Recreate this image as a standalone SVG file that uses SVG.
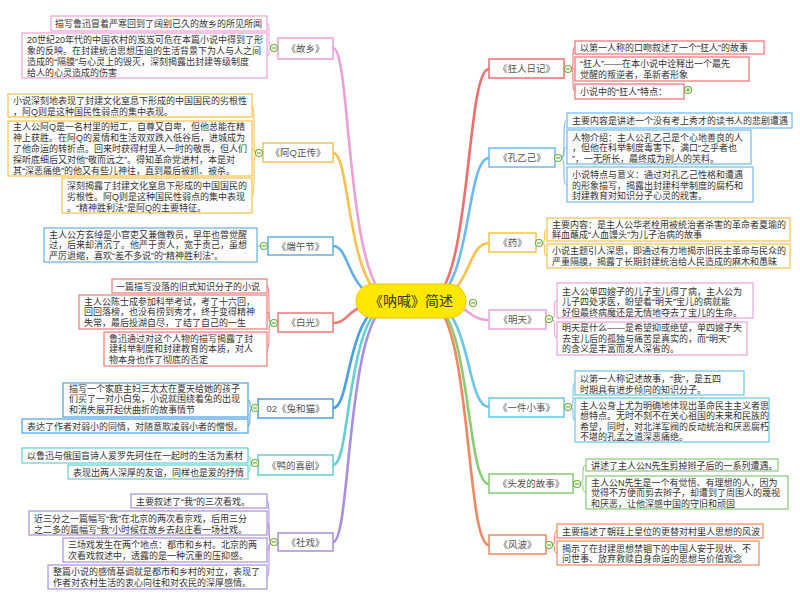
<svg xmlns="http://www.w3.org/2000/svg" width="800" height="603" viewBox="0 0 800 603">
<style>
.t{font-family:"Liberation Sans","Noto Sans CJK SC",sans-serif;font-size:9px;fill:#333}
.nt{font-family:"Liberation Sans","Noto Sans CJK SC",sans-serif;font-size:9.5px;fill:#555;text-anchor:middle}
.leaf{fill:#fff;stroke-width:1.2}
.node{fill:#fff;stroke-width:1.5}
.main{fill:none;stroke-width:2.6;stroke-linecap:round}
.sub{fill:none;stroke-width:1}
.tog{fill:#fff;stroke:#6fb23f;stroke-width:1.2}
.togl{stroke:#6fb23f;stroke-width:1.2}
.pk{stroke:#ee9fd6}.yl{stroke:#f7c24c}.bl{stroke:#62b0e6}.rd{stroke:#f07878}.db{stroke:#4a9fe3}.tl{stroke:#62d0d0}.pu{stroke:#a98ee2}
.rr{stroke:#ee6e6e}.lb{stroke:#6eb9ee}.mp{stroke:#eba2d9}.cy{stroke:#68c6e8}.gr{stroke:#86cc74}.or{stroke:#f4865e}
</style>
<rect width="800" height="603" fill="#fff"/>
<g id="connectors">
<path class="main pk" d="M395,301 C345,301 352,48 333,48"/>
<path class="main yl" d="M395,301 C345,301 352,153 333,153"/>
<path class="main bl" d="M395,301 C345,301 352,246 333,246"/>
<path class="main rd" d="M395,301 C345,301 352,323 333,323"/>
<path class="main db" d="M395,301 C345,301 352,408 333,408"/>
<path class="main tl" d="M395,301 C345,301 352,465 333,465"/>
<path class="main pu" d="M395,301 C345,301 352,542 333,542"/>
<path class="main rr" d="M427,301 C472,301 465,69 489,69"/>
<path class="main lb" d="M427,301 C472,301 465,158 489,158"/>
<path class="main yl" d="M427,301 C472,301 465,243 489,243"/>
<path class="main mp" d="M427,301 C472,301 465,320 489,320"/>
<path class="main cy" d="M427,301 C472,301 465,407 489,407"/>
<path class="main gr" d="M427,301 C472,301 465,484 489,484"/>
<path class="main or" d="M427,301 C472,301 465,545 489,545"/>
<path class="sub pk" d="M271,48 C267,48 271,23 267,23 M271,48 C267,48 271,56 267,56"/>
<path class="sub yl" d="M256,153 C252,153 256,106 252,106 M256,153 C252,153 256,149 252,149 M256,153 C252,153 256,196 252,196"/>
<path class="sub bl" d="M261,246 L257,246"/>
<path class="sub rd" d="M271,323 C267,323 271,286 267,286 M271,323 C267,323 271,312 267,312 M271,323 C267,323 271,349 267,349"/>
<path class="sub db" d="M252,408 C248,408 252,400 248,400 M252,408 C248,408 252,426 248,426"/>
<path class="sub tl" d="M252,463 C248,463 252,456 248,456 M252,463 C248,463 252,472 248,472"/>
<path class="sub pu" d="M271,542 C267,542 271,501 267,501 M271,542 C267,542 271,523 267,523 M271,542 C267,542 271,550 267,550 M271,542 C267,542 271,577 267,577"/>
<path class="sub rr" d="M571,69 C575,69 571,47 575,47 M571,69 L575,69 M571,69 C575,69 571,91 575,91"/>
<path class="sub lb" d="M561,158 C567,158 561,120 567,120 M561,158 C567,158 561,147 567,147 M561,158 C567,158 561,185 567,185"/>
<path class="sub yl" d="M542,243 C547,243 542,229 547,229 M542,243 C547,243 542,256 547,256"/>
<path class="sub mp" d="M552,319 C557,319 552,300 557,300 M552,319 C557,319 552,338 557,338"/>
<path class="sub cy" d="M571,407 C575,407 571,383 575,383 M571,407 C575,407 571,420 575,420"/>
<path class="sub gr" d="M580,484 C586,484 580,465 586,465 M580,484 C586,484 580,492 586,492"/>
<path class="sub or" d="M552,545 C557,545 552,531 557,531 M552,545 C557,545 552,553 557,553"/>
</g>
<g id="center">
<rect x="356" y="284" width="110" height="34" rx="17" fill="#ffe800" stroke="#f5c400" stroke-width="1"/>
<text x="411" y="306" font-family="Liberation Sans, Noto Sans CJK SC, sans-serif" font-size="14" fill="#333" text-anchor="middle">《呐喊》简述</text>
<circle class="tog" cx="473" cy="303" r="3.5"/><line class="togl" x1="471" y1="303" x2="475" y2="303"/>
</g>
<g id="guxiang">
<rect class="node pk" x="278" y="38" width="55" height="21"/>
<text class="nt" x="305.5" y="52">《故乡》</text>
<rect class="leaf pk" x="51" y="16" width="216" height="15"/>
<text class="t" x="55" y="27">描写鲁迅冒着严寒回到了阔别已久的故乡的所见所闻</text>
<rect class="leaf pk" x="22" y="33" width="245" height="45"/>
<text class="t"><tspan x="27" y="42.5">20世纪20年代的中国农村的岌岌可危在本篇小说中得到了形</tspan><tspan x="27" y="53.8">象的反映。在封建统治思想压迫的生活背景下为人与人之间</tspan><tspan x="27" y="65">造成的“隔膜”与心灵上的毁灭，深刻揭露出封建等级制度</tspan><tspan x="27" y="76">给人的心灵造成的伤害</tspan></text>
<circle class="tog" cx="274" cy="48" r="3.5"/><line class="togl" x1="272" y1="48" x2="276" y2="48"/>
</g>
<g id="aq">
<rect class="node yl" x="263" y="143" width="70" height="19"/>
<text class="nt" x="298" y="156">《阿Q正传》</text>
<rect class="leaf yl" x="8" y="94" width="244" height="23"/>
<text class="t"><tspan x="13" y="103.5">小说深刻地表现了封建文化窒息下形成的中国国民的劣根性</tspan><tspan x="13" y="114.5">，阿Q则是这种国民性弱点的集中表现。</tspan></text>
<rect class="leaf yl" x="8" y="121" width="244" height="55"/>
<text class="t"><tspan x="13" y="129.5">主人公阿Q是一名村里的短工，自尊又自卑，但他总能在精</tspan><tspan x="13" y="140.5">神上获胜。在阿Q的爱情和生活双双跌入低谷后，进城成为</tspan><tspan x="13" y="151.5">了他命运的转折点。回来时获得村里人一时的敬畏，但人们</tspan><tspan x="13" y="162.5">探听底细后又对他“敬而远之”。得知革命党进村，本是对</tspan><tspan x="13" y="173.5">其“深恶痛绝”的他又有些儿神往，直到最后被抓、被杀。</tspan></text>
<rect class="leaf yl" x="62" y="178" width="190" height="35"/>
<text class="t"><tspan x="67" y="188.5">深刻揭露了封建文化窒息下形成的中国国民的</tspan><tspan x="67" y="199.5">劣根性。阿Q则是这种国民性弱点的集中表现</tspan><tspan x="67" y="210.5">。“精神胜利法”是阿Q的主要特征。</tspan></text>
<circle class="tog" cx="259" cy="153" r="3.5"/><line class="togl" x1="257" y1="153" x2="261" y2="153"/>
</g>
<g id="duanwu">
<rect class="node bl" x="268" y="237" width="65" height="18"/>
<text class="nt" x="300.5" y="249.5">《端午节》</text>
<rect class="leaf bl" x="44" y="228" width="213" height="34"/>
<text class="t"><tspan x="49" y="237.5">主人公方玄绰是小官吏又兼做教员，早年也曾觉醒</tspan><tspan x="49" y="248.3">过，后来却消沉了。他严于责人，宽于责己，虽想</tspan><tspan x="49" y="259">严厉退缩，喜欢“差不多说”的“精神胜利法”。</tspan></text>
<circle class="tog" cx="264" cy="246" r="3.5"/><line class="togl" x1="262" y1="246" x2="266" y2="246"/>
</g>
<g id="baiguang">
<rect class="node rd" x="278" y="313" width="55" height="19"/>
<text class="nt" x="305.5" y="326">《白光》</text>
<rect class="leaf rd" x="112" y="279" width="155" height="14"/>
<text class="t" x="116" y="289.5">一篇描写没落的旧式知识分子的小说</text>
<rect class="leaf rd" x="79" y="295" width="188" height="34"/>
<text class="t"><tspan x="84" y="304.5">主人公陈士成参加科举考试，考了十六回，</tspan><tspan x="84" y="315">回回落榜，也没有捞到秀才，终于变得精神</tspan><tspan x="84" y="325.5">失常，最后投湖自尽，了结了自己的一生</tspan></text>
<rect class="leaf rd" x="104" y="332" width="163" height="34"/>
<text class="t"><tspan x="109" y="341.5">鲁迅通过对这个人物的描写揭露了封</tspan><tspan x="109" y="352">建科举制度和封建教育的本质，对人</tspan><tspan x="109" y="363">物本身也作了彻底的否定</tspan></text>
<circle class="tog" cx="274" cy="323" r="3.5"/><line class="togl" x1="272" y1="323" x2="276" y2="323"/>
</g>
<g id="tuhemao">
<rect class="node db" x="258" y="399" width="75" height="19"/>
<text class="nt" x="295.5" y="412">02《兔和猫》</text>
<rect class="leaf db" x="63" y="383" width="185" height="34"/>
<text class="t"><tspan x="69" y="391.5">描写一个家庭主妇三太太在夏天给她的孩子</tspan><tspan x="69" y="402">们买了一对小白兔，小说就围绕着兔的出现</tspan><tspan x="69" y="412.5">和消失展开起伏曲折的故事情节</tspan></text>
<rect class="leaf db" x="22" y="419" width="226" height="14"/>
<text class="t" x="27" y="430">表达了作者对弱小的同情，对随意欺凌弱小者的憎恨。</text>
<circle class="tog" cx="255" cy="408" r="3.5"/><line class="togl" x1="253" y1="408" x2="257" y2="408"/>
</g>
<g id="yadexiju">
<rect class="node tl" x="258" y="455" width="75" height="20"/>
<text class="nt" x="295.5" y="468.5">《鸭的喜剧》</text>
<rect class="leaf tl" x="22" y="448" width="226" height="15"/>
<text class="t" x="27" y="459">以鲁迅与俄国盲诗人爱罗先珂住在一起时的生活为素材</text>
<rect class="leaf tl" x="68" y="465" width="180" height="14"/>
<text class="t" x="73" y="476">表现出两人深厚的友谊，同样也是爱的抒情</text>
<circle class="tog" cx="255" cy="463" r="3.5"/><line class="togl" x1="253" y1="463" x2="257" y2="463"/>
</g>
<g id="shexi">
<rect class="node pu" x="278" y="533" width="55" height="18"/>
<text class="nt" x="305.5" y="545.5">《社戏》</text>
<rect class="leaf pu" x="131" y="494" width="136" height="14"/>
<text class="t" x="136" y="505">主要叙述了“我”的三次看戏。</text>
<rect class="leaf pu" x="29" y="511" width="238" height="24"/>
<text class="t"><tspan x="34" y="521.5">近三分之一篇幅写“我”在北京的两次看京戏，后用三分</tspan><tspan x="34" y="532.5">之二多的篇幅写“我”小时候在故乡去赵庄看一场社戏。</tspan></text>
<rect class="leaf pu" x="63" y="538" width="204" height="24"/>
<text class="t"><tspan x="68" y="547.5">三场戏发生在两个地点：都市和乡村。北京的两</tspan><tspan x="68" y="558.5">次看戏叙述中，透露的是一种沉重的压抑感。</tspan></text>
<rect class="leaf pu" x="48" y="565" width="219" height="24"/>
<text class="t"><tspan x="53" y="574.5">整篇小说的感情基调就是都市和乡村的对立，表现了</tspan><tspan x="53" y="585.5">作者对农村生活的衷心向往和对农民的深厚感情。</tspan></text>
<circle class="tog" cx="274" cy="542" r="3.5"/><line class="togl" x1="272" y1="542" x2="276" y2="542"/>
</g>
<g id="kuangren">
<rect class="node rr" x="489" y="59" width="75" height="19"/>
<text class="nt" x="526.5" y="72">《狂人日记》</text>
<rect class="leaf rr" x="575" y="41" width="189" height="13"/>
<text class="t" x="580" y="51">以第一人称的口吻叙述了一个“狂人”的故事</text>
<rect class="leaf rr" x="575" y="57" width="174" height="24"/>
<text class="t"><tspan x="580" y="66.5">“狂人”——在本小说中诠释出一个最先</tspan><tspan x="580" y="77.5">觉醒的叛逆者，革新者形象</tspan></text>
<rect class="leaf rr" x="575" y="84" width="109" height="15"/>
<text class="t" x="580" y="95">小说中的“狂人”特点：</text>
<circle class="tog" cx="568" cy="69" r="3.5"/><line class="togl" x1="566" y1="69" x2="570" y2="69"/>
<circle class="tog" cx="688" cy="90" r="3.5"/><line class="togl" x1="686" y1="90" x2="690" y2="90"/><line class="togl" x1="688" y1="88" x2="688" y2="92"/>
</g>
<g id="kongyiji">
<rect class="node lb" x="489" y="148" width="66" height="19"/>
<text class="nt" x="522" y="161">《孔乙己》</text>
<rect class="leaf lb" x="567" y="113" width="225" height="15"/>
<text class="t" x="572" y="124">主要内容是讲述一个没有考上秀才的读书人的悲剧遭遇</text>
<rect class="leaf lb" x="567" y="130" width="184" height="34"/>
<text class="t"><tspan x="572" y="140.5">人物介绍：主人公孔乙己是个心地善良的人</tspan><tspan x="572" y="151">，但他在科举制度毒害下，满口“之乎者也</tspan><tspan x="572" y="161.5">”，一无所长，最终成为别人的笑料。</tspan></text>
<rect class="leaf lb" x="567" y="167" width="186" height="35"/>
<text class="t"><tspan x="572" y="177.5">小说特点与意义：通过对孔乙己性格和遭遇</tspan><tspan x="572" y="188.5">的形象描写，揭露出封建科举制度的腐朽和</tspan><tspan x="572" y="199">封建教育对知识分子心灵的戕害。</tspan></text>
<circle class="tog" cx="558" cy="158" r="3.5"/><line class="togl" x1="556" y1="158" x2="560" y2="158"/>
</g>
<g id="yao">
<rect class="node yl" x="489" y="233" width="47" height="19"/>
<text class="nt" x="512.5" y="246">《药》</text>
<rect class="leaf yl" x="547" y="218" width="243" height="23"/>
<text class="t"><tspan x="552" y="227.5">主要内容：是主人公华老栓用被统治者杀害的革命者夏瑜的</tspan><tspan x="552" y="238">鲜血蘸成“人血馒头”为儿子治病的故事</tspan></text>
<rect class="leaf yl" x="547" y="244" width="243" height="24"/>
<text class="t"><tspan x="552" y="254">小说主题引人深思，即通过有力地揭示旧民主革命与民众的</tspan><tspan x="552" y="265">严重隔膜，揭露了长期封建统治给人民造成的麻木和愚昧</tspan></text>
<circle class="tog" cx="539" cy="243" r="3.5"/><line class="togl" x1="537" y1="243" x2="541" y2="243"/>
</g>
<g id="mingtian">
<rect class="node mp" x="489" y="310" width="57" height="19"/>
<text class="nt" x="517.5" y="323">《明天》</text>
<rect class="leaf mp" x="557" y="283" width="196" height="35"/>
<text class="t"><tspan x="562" y="294.5">主人公单四嫂子的儿子宝儿得了病，主人公为</tspan><tspan x="562" y="305">儿子四处求医，盼望着“明天”宝儿的病就能</tspan><tspan x="562" y="315.5">好但最终病魔还是无情地夺去了宝儿的生命。</tspan></text>
<rect class="leaf mp" x="557" y="322" width="190" height="33"/>
<text class="t"><tspan x="562" y="331">明天是什么——是希望抑或绝望，单四嫂子失</tspan><tspan x="562" y="341.5">去宝儿后的孤独与痛苦是真实的，而“明天”</tspan><tspan x="562" y="352">的含义是丰富而发人深省的。</tspan></text>
<circle class="tog" cx="549" cy="319" r="3.5"/><line class="togl" x1="547" y1="319" x2="551" y2="319"/>
</g>
<g id="yijianxiaoshi">
<rect class="node cy" x="489" y="398" width="75" height="19"/>
<text class="nt" x="526.5" y="411">《一件小事》</text>
<rect class="leaf cy" x="575" y="371" width="169" height="24"/>
<text class="t"><tspan x="580" y="381.5">以第一人称记述故事，“我”，是五四</tspan><tspan x="580" y="392.5">时期具有进步倾向的知识分子。</tspan></text>
<rect class="leaf cy" x="575" y="398" width="194" height="44"/>
<text class="t"><tspan x="580" y="408.5">主人公身上尤为明确地体现出革命民主主义者思</tspan><tspan x="580" y="419">想特点。无时不刻不在关心祖国的未来和民族的</tspan><tspan x="580" y="429.5">希望，同时，对北洋军阀的反动统治和厌恶腐朽</tspan><tspan x="580" y="440">不堪的孔孟之道深恶痛绝。</tspan></text>
<circle class="tog" cx="568" cy="407" r="3.5"/><line class="togl" x1="566" y1="407" x2="570" y2="407"/>
</g>
<g id="toufa">
<rect class="node gr" x="489" y="474" width="84" height="19"/>
<text class="nt" x="531" y="487">《头发的故事》</text>
<rect class="leaf gr" x="586" y="459" width="192" height="12"/>
<text class="t" x="591" y="468.5">讲述了主人公N先生剪掉辫子后的一系列遭遇。</text>
<rect class="leaf gr" x="586" y="476" width="202" height="33"/>
<text class="t"><tspan x="591" y="485.5">主人公N先生是一个有觉悟、有理想的人，因为</tspan><tspan x="591" y="496">觉得不方便而剪去辫子，却遭到了周围人的蔑视</tspan><tspan x="591" y="506.5">和厌恶，让他深感中国的守旧和顽固</tspan></text>
<circle class="tog" cx="577" cy="484" r="3.5"/><line class="togl" x1="575" y1="484" x2="579" y2="484"/>
</g>
<g id="fengbo">
<rect class="node or" x="489" y="535" width="57" height="19"/>
<text class="nt" x="517.5" y="548">《风波》</text>
<rect class="leaf or" x="557" y="524" width="206" height="14"/>
<text class="t" x="562" y="535">主要描述了朝廷上皇位的更替对村里人思想的风波</text>
<rect class="leaf or" x="557" y="541" width="202" height="24"/>
<text class="t"><tspan x="562" y="551.5">揭示了在封建思想禁锢下的中国人安于现状、不</tspan><tspan x="562" y="562">问世事、放弃救赎自身命运的思想与价值观念</tspan></text>
<circle class="tog" cx="549" cy="545" r="3.5"/><line class="togl" x1="547" y1="545" x2="551" y2="545"/>
</g>
</svg>
